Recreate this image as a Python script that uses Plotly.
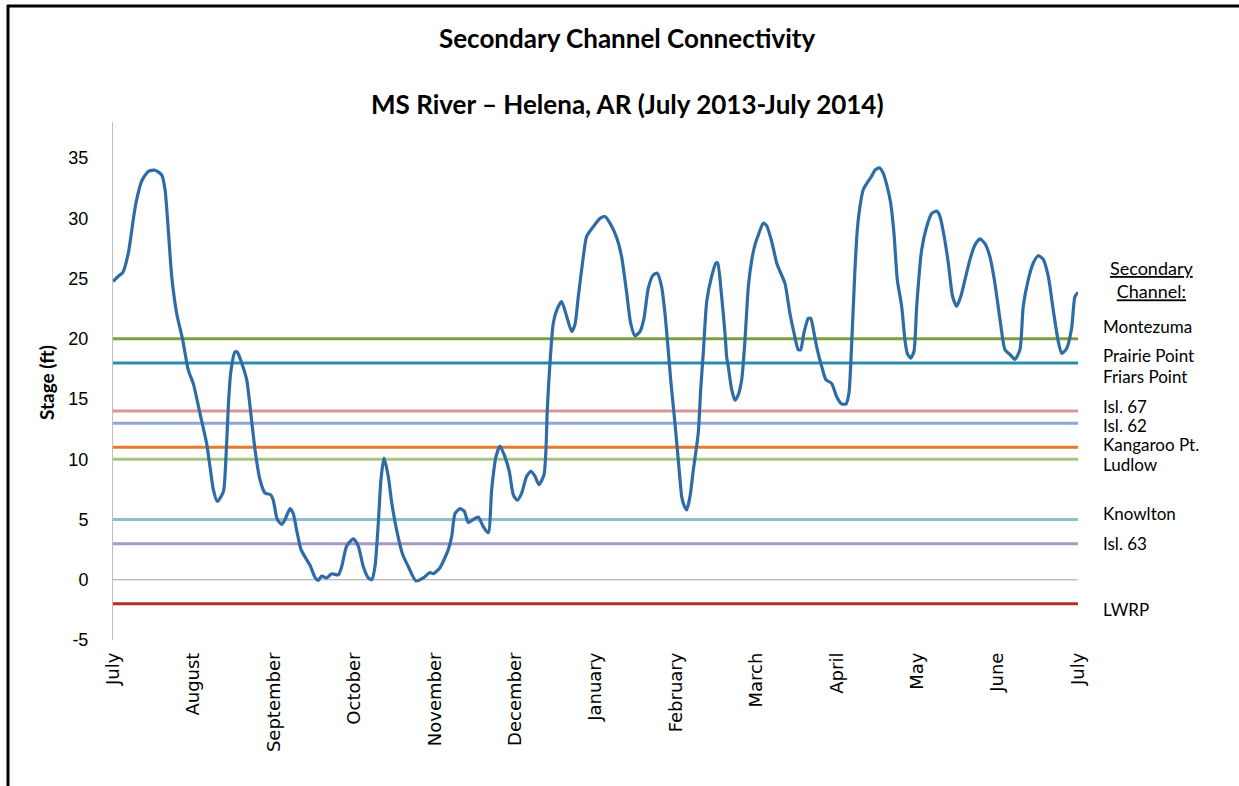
import plotly.graph_objects as go

# ---- data ----
month_labels = ["July", "August", "September", "October", "November", "December",
                "January", "February", "March", "April", "May", "June", "July"]

y_tick_vals = [-5, 0, 5, 10, 15, 20, 25, 30, 35]
y_tick_text = ["-5", "0", "5", "10", "15", "20", "25", "30", "35"]

# time in months since 1 July 2013
month_pos = [0.0, 0.066, 0.121, 0.190, 0.252, 0.286, 0.357, 0.439, 0.522, 0.606, 0.647, 0.688,
             0.730, 0.792, 0.867, 0.936, 0.998, 1.082, 1.165, 1.206, 1.247, 1.297, 1.372, 1.405,
             1.434, 1.464, 1.517, 1.546, 1.600, 1.663, 1.704, 1.766, 1.828, 1.890, 1.961, 1.993,
             2.043, 2.098, 2.139, 2.201, 2.242, 2.284, 2.338, 2.387, 2.450, 2.512, 2.553, 2.595,
             2.657, 2.719, 2.802, 2.844, 2.906, 2.988, 3.050, 3.112, 3.175, 3.217, 3.258, 3.299,
             3.332, 3.370, 3.423, 3.466, 3.528, 3.602, 3.672, 3.768, 3.858, 3.942, 3.983, 4.066,
             4.169, 4.212, 4.253, 4.315, 4.368, 4.418, 4.480, 4.542, 4.605, 4.667, 4.709, 4.762,
             4.812, 4.874, 4.928, 4.978, 5.027, 5.082, 5.144, 5.198, 5.247, 5.297, 5.359, 5.384,
             5.400, 5.434, 5.475, 5.525, 5.579, 5.642, 5.704, 5.745, 5.786, 5.848, 5.890, 5.972,
             6.056, 6.118, 6.180, 6.263, 6.325, 6.388, 6.437, 6.491, 6.553, 6.603, 6.656, 6.718,
             6.768, 6.823, 6.864, 6.905, 6.935, 6.988, 7.029, 7.072, 7.100, 7.134, 7.175, 7.216,
             7.278, 7.308, 7.340, 7.383, 7.445, 7.498, 7.519, 7.569, 7.610, 7.631, 7.651, 7.693,
             7.734, 7.775, 7.818, 7.859, 7.900, 7.942, 7.983, 8.024, 8.086, 8.128, 8.190, 8.253,
             8.294, 8.356, 8.418, 8.468, 8.521, 8.551, 8.592, 8.646, 8.676, 8.717, 8.758, 8.813,
             8.866, 8.937, 8.999, 9.061, 9.115, 9.152, 9.177, 9.226, 9.255, 9.289, 9.330, 9.392,
             9.434, 9.475, 9.529, 9.578, 9.621, 9.670, 9.711, 9.753, 9.807, 9.848, 9.877, 9.919,
             9.960, 9.994, 10.056, 10.118, 10.180, 10.243, 10.284, 10.333, 10.387, 10.441, 10.491,
             10.541, 10.594, 10.657, 10.719, 10.781, 10.843, 10.905, 10.967, 11.030, 11.092,
             11.154, 11.216, 11.278, 11.319, 11.381, 11.444, 11.506, 11.568, 11.630, 11.692,
             11.754, 11.797, 11.859, 11.921, 11.962, 12.003]

stage_ft = [24.75, 25.2, 25.5, 27.1, 29.9, 31.3, 33.1, 33.9, 34.0, 33.6, 32.4, 29.0,
            25.2, 22.1, 19.9, 17.4, 16.3, 13.8, 11.3, 9.4, 7.5, 6.5, 7.3, 10.2,
            14.4, 17.2, 18.9, 18.9, 18.0, 16.6, 14.4, 10.8, 8.3, 7.2, 7.05, 6.6,
            5.0, 4.6, 5.0, 5.9, 5.5, 4.1, 2.5, 1.9, 1.2, 0.2, -0.05, 0.3,
            0.15, 0.5, 0.4, 1.1, 2.8, 3.4, 2.8, 1.1, 0.15, 0.0, 1.1, 4.7,
            8.3, 10.1, 8.6, 6.4, 4.1, 2.1, 1.1, -0.1, 0.15, 0.6, 0.5, 1.0,
            2.5, 3.6, 5.5, 5.9, 5.7, 4.75, 5.0, 5.2, 4.4, 3.9, 7.5, 10.2,
            11.1, 10.2, 9.0, 7.05, 6.6, 7.2, 8.6, 9.0, 8.6, 7.9, 8.7, 10.8,
            14.1, 18.0, 21.3, 22.5, 23.1, 21.85, 20.6, 21.2, 23.5, 26.8, 28.5, 29.3,
            30.0, 30.15, 29.6, 28.4, 26.8, 23.8, 21.3, 20.25, 20.6, 21.7, 24.2, 25.3,
            25.45, 24.3, 22.1, 19.0, 16.6, 13.0, 10.0, 6.9, 6.2, 5.8, 6.9, 9.1,
            12.2, 15.8, 18.8, 23.1, 25.2, 26.3, 26.3, 23.5, 20.5, 18.5, 17.7, 15.8,
            14.9, 15.35, 16.6, 19.9, 24.3, 26.5, 27.8, 28.6, 29.6, 29.4, 28.1, 26.3,
            25.6, 24.6, 22.1, 20.5, 19.1, 19.1, 20.5, 21.7, 21.7, 20.5, 19.1, 17.7,
            16.6, 16.3, 15.2, 14.6, 14.6, 15.5, 18.3, 25.7, 29.0, 31.0, 32.4, 33.1,
            33.5, 34.0, 34.2, 33.75, 32.8, 31.3, 28.8, 24.9, 22.7, 19.9, 18.8, 18.4,
            18.95, 22.7, 27.4, 29.3, 30.4, 30.6, 30.15, 28.6, 26.3, 23.5, 22.7,
            23.5, 24.9, 26.6, 27.8, 28.3, 27.9, 26.8, 24.6, 21.6, 19.1,
            18.7, 18.3, 19.1, 22.7, 24.9, 26.3, 26.9, 26.6, 25.2, 22.4,
            19.8, 18.8, 19.2, 20.9, 23.5, 23.85]

channel_names = ["Montezuma", "Prairie Point / Friars Point", "Isl. 67", "Isl. 62",
                 "Kangaroo Pt.", "Ludlow", "Knowlton", "Isl. 63", "Zero", "LWRP"]
channel_levels = [20, 18, 14, 13, 11, 10, 5, 3, 0, -2]
channel_colors = ["#7E9F3D", "#2A8DA9", "#D99694", "#8EA8D2", "#E8782A", "#A8C47E",
                  "#8CBFD0", "#A999C4", "#A6A6A6", "#B22E2C"]
channel_widths = [3, 3, 3, 3, 3, 3, 3, 3, 1, 3]

label_texts = ["Montezuma", "Prairie Point", "Friars Point", "Isl. 67", "Isl. 62",
               "Kangaroo Pt.", "Ludlow", "Knowlton", "Isl. 63", "LWRP"]
label_y = [21.0, 18.6, 16.9, 14.4, 12.8, 11.2, 9.6, 5.5, 3.0, -2.5]

# ---- figure ----
fig = go.Figure()

for name, lvl, col, w in zip(channel_names, channel_levels, channel_colors, channel_widths):
    fig.add_trace(go.Scatter(x=[0, 12], y=[lvl, lvl], mode="lines",
                             line=dict(color=col, width=w), name=name,
                             showlegend=False, hoverinfo="skip"))

fig.add_trace(go.Scatter(x=month_pos, y=stage_ft, mode="lines",
                         line=dict(color="#2E6CA8", width=3.2, shape="spline", smoothing=0.6),
                         name="Stage", showlegend=False))

L, R, T, B = 113, 161, 122, 146
W, H = 1239, 786
pw, ph = W - L - R, H - T - B

def px_x(p):
    return (p - L) / pw

def px_y(p):
    return (H - B - p) / ph

FONT = "Lato, Carlito, sans-serif"
annotations = []
for txt, yv in zip(label_texts, label_y):
    annotations.append(dict(x=px_x(1101), xref="paper", y=yv, yref="y", text=txt,
                            showarrow=False, xanchor="left", yanchor="middle",
                            font=dict(family=FONT, size=17, color="#000")))
annotations.append(dict(x=px_x(1151), xref="paper", y=px_y(279), yref="paper",
                        text="<u>Secondary</u><br><u>Channel:</u>", showarrow=False,
                        xanchor="center", yanchor="middle", align="center",
                        font=dict(family=FONT, size=18, color="#000")))
annotations.append(dict(x=px_x(46), xref="paper", y=px_y(383), yref="paper",
                        text="<b>Stage (ft)</b>", showarrow=False, textangle=-90,
                        xanchor="center", yanchor="middle",
                        font=dict(family=FONT, size=19, color="#000")))
annotations.append(dict(x=px_x(627), xref="paper", y=px_y(38), yref="paper",
                        text="<b>Secondary Channel Connectivity</b>", showarrow=False,
                        xanchor="center", yanchor="middle",
                        font=dict(family=FONT, size=26, color="#000")))
annotations.append(dict(x=px_x(627), xref="paper", y=px_y(104), yref="paper",
                        text="<b>MS River \u2013 Helena, AR (July 2013-July 2014)</b>", showarrow=False,
                        xanchor="center", yanchor="middle",
                        font=dict(family=FONT, size=26, color="#000")))

shapes = [
    dict(type="line", xref="paper", yref="paper", x0=px_x(7), x1=px_x(1245),
         y0=px_y(6), y1=px_y(6), line=dict(color="#000", width=3)),
    dict(type="line", xref="paper", yref="paper", x0=px_x(8), x1=px_x(8),
         y0=px_y(5), y1=px_y(792), line=dict(color="#000", width=3)),
]

fig.update_layout(
    width=W, height=H,
    margin=dict(l=L, r=R, t=T, b=B),
    paper_bgcolor="white", plot_bgcolor="white",
    annotations=annotations, shapes=shapes,
    showlegend=False,
    xaxis=dict(range=[0, 12], tickmode="array", tickvals=list(range(13)),
               ticktext=month_labels, tickangle=-90, showgrid=False, zeroline=False,
               showline=False, ticks="", ticklabelstandoff=8,
               tickfont=dict(family="DejaVu Sans", size=18, color="#000")),
    yaxis=dict(range=[-5, 38], tickmode="array", tickvals=y_tick_vals, ticktext=y_tick_text,
               showgrid=False, zeroline=False, showline=True, linecolor="#BFBFBF", linewidth=1,
               ticks="", ticklabelstandoff=20,
               tickfont=dict(family="Liberation Sans", size=18, color="#000")),
)

fig.write_html("out.html", config={"displayModeBar": False},
               post_script="document.body.style.margin='0';document.body.style.overflow='hidden';")
